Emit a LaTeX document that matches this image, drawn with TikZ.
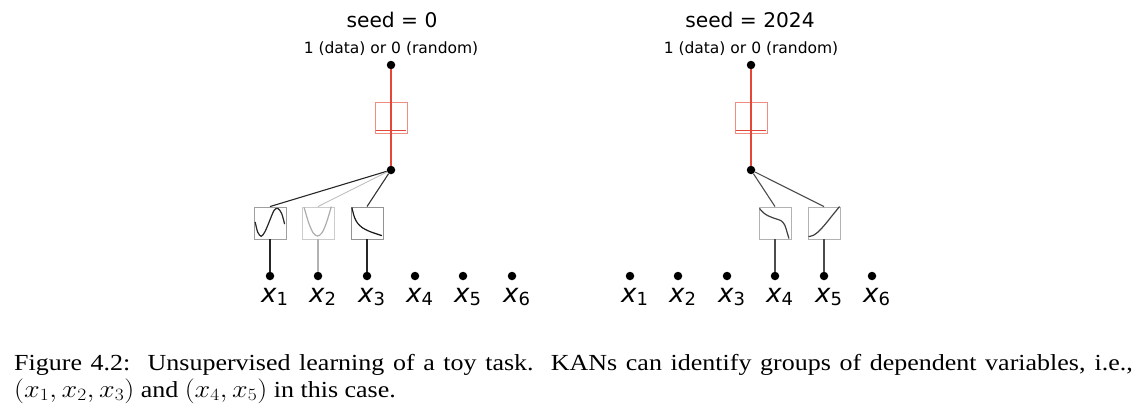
\documentclass[tikz,border=0pt]{standalone}
\usepackage{graphicx}
\usepackage{fontspec}
\setmainfont{Liberation Serif}
\newfontfamily\dvs{DejaVu Sans}
\definecolor{kred}{RGB}{228,70,56}
\definecolor{kredbox}{RGB}{240,140,128}
\tikzset{
  dot/.style={circle, fill=black, inner sep=0pt, minimum size=8.5pt},
  fbox/.style={draw=#1, line width=0.9pt, minimum size=32pt, inner sep=0pt},
  redbox/.style={draw=kredbox, line width=0.9pt, minimum width=32pt, minimum height=31pt, inner sep=0pt},
  redline/.style={kred, line width=1.2pt},
  conn/.style={draw=#1, line width=1.1pt},
  curve/.style={draw=#1, line width=1.2pt},
  title/.style={font=\dvs\fontsize{20.2}{24}\selectfont, anchor=base, inner sep=0pt},
  subtitle/.style={font=\dvs\fontsize{15.5}{18}\selectfont, anchor=base, inner sep=0pt},
  xlab/.style={font=\dvs\fontsize{26}{30}\selectfont, anchor=base west, inner sep=0pt},
  captext/.style={font=\fontsize{23}{27}\selectfont, anchor=base west, inner sep=0pt}
}
\newcommand{\xl}[1]{{\itshape x}\raisebox{-3.5pt}{\fontsize{18}{18}\selectfont #1}}
\begin{document}
\begin{tikzpicture}[x=1pt,y=-1pt]
\useasboundingbox (0,0) rectangle (1140,407);

% ---------- left network ----------
\node[title] (s1) at (392,27) {seed = 0};
\node[subtitle] (d1) at (391,53) {1 (data) or 0 (random)};
\node[dot] (t1) at (391,65) {};
\node[redbox] (r1) at (391,118) {};
\node[dot] (m1) at (391,170) {};
\draw[redline] (t1) -- (r1.north);
\draw[redline] (r1.south) -- (m1);
\draw[redline] (r1.north) -- (r1.south);
\draw[redline] ([xshift=1pt,yshift=3.5pt]r1.south west) -- ([xshift=-1pt,yshift=3.5pt]r1.south east);

\foreach \i/\x in {1/270,2/318,3/367,4/415,5/463,6/512}{
  \node[dot] (a\i) at (\x,276) {};
  \node[xlab] (la\i) at (\x-9,302) {\xl{\i}};
}
\node[fbox=gray!75] (b1) at (270,223) {};
\node[fbox=gray!40] (b2) at (318,223) {};
\node[fbox=gray!85] (b3) at (367,223) {};

\draw[conn=black!85] (m1) -- (b1.north);
\draw[conn=gray!55, line width=0.8pt] (m1) -- (b2.north);
\draw[conn=black!80] (m1) -- (b3.north);
\draw[conn=black!85] (a1) -- (b1.south);
\draw[conn=gray!60] (a2) -- (b2.south);
\draw[conn=black!85] (a3) -- (b3.south);

\begin{scope}[shift={(b1.north west)}, x=32pt, y=-32pt]
  \draw[curve=black!85] plot[smooth] coordinates {(0.05,0.48) (0.13,0.80) (0.24,0.93) (0.36,0.78) (0.50,0.45) (0.64,0.12) (0.76,0.06) (0.88,0.22) (0.97,0.55)};
\end{scope}
\begin{scope}[shift={(b2.north west)}, x=32pt, y=-32pt]
  \draw[curve=gray!65] plot[smooth] coordinates {(0.08,0.03) (0.22,0.50) (0.36,0.82) (0.50,0.92) (0.64,0.82) (0.78,0.50) (0.93,0.0)};
\end{scope}
\begin{scope}[shift={(b3.north west)}, x=32pt, y=-32pt]
  \draw[curve=black!90] plot[smooth] coordinates {(0.04,0.03) (0.12,0.33) (0.22,0.52) (0.38,0.67) (0.60,0.78) (0.80,0.85) (0.98,0.91)};
\end{scope}

% ---------- right network ----------
\node[title] (s2) at (750,27) {seed = 2024};
\node[subtitle] (d2) at (751,53) {1 (data) or 0 (random)};
\node[dot] (t2) at (751,65) {};
\node[redbox] (r2) at (751,118) {};
\node[dot] (m2) at (751,170) {};
\draw[redline] (t2) -- (r2.north);
\draw[redline] (r2.south) -- (m2);
\draw[redline] (r2.north) -- (r2.south);
\draw[redline] ([xshift=1pt,yshift=3.5pt]r2.south west) -- ([xshift=-1pt,yshift=3.5pt]r2.south east);

\foreach \i/\x in {1/630,2/678,3/727,4/775,5/824,6/872}{
  \node[dot] (c\i) at (\x,276) {};
  \node[xlab] (lc\i) at (\x-9,302) {\xl{\i}};
}
\node[fbox=gray!60] (b4) at (775,223) {};
\node[fbox=gray!60] (b5) at (824,223) {};

\draw[conn=black!70] (m2) -- (b4.north);
\draw[conn=black!70] (m2) -- (b5.north);
\draw[conn=black!70] (c4) -- (b4.south);
\draw[conn=black!70] (c5) -- (b5.south);

\begin{scope}[shift={(b4.north west)}, x=32pt, y=-32pt]
  \draw[curve=black!75] plot[smooth] coordinates {(0.03,0.06) (0.16,0.20) (0.30,0.29) (0.50,0.37) (0.70,0.44) (0.82,0.58) (0.89,0.80) (0.95,1.0)};
\end{scope}
\begin{scope}[shift={(b5.north west)}, x=32pt, y=-32pt]
  \draw[curve=black!75] plot[smooth] coordinates {(0.03,0.94) (0.18,0.90) (0.32,0.80) (0.45,0.67) (0.58,0.52) (0.78,0.27) (1.0,0.0)};
\end{scope}

% ---------- caption ----------
\node[captext] (cap1) at (14,370) {\scalebox{1.13}[1]{\makebox[990pt][s]{Figure 4.2:\ \ Unsupervised learning of a toy task.\ \ KANs can identify groups of dependent variables, i.e.,}}};
\node[captext] (cap2) at (14,397) {\scalebox{1.13}[1]{$(x_1,x_2,x_3)$ and $(x_4,x_5)$ in this case.}};
\end{tikzpicture}
\end{document}
